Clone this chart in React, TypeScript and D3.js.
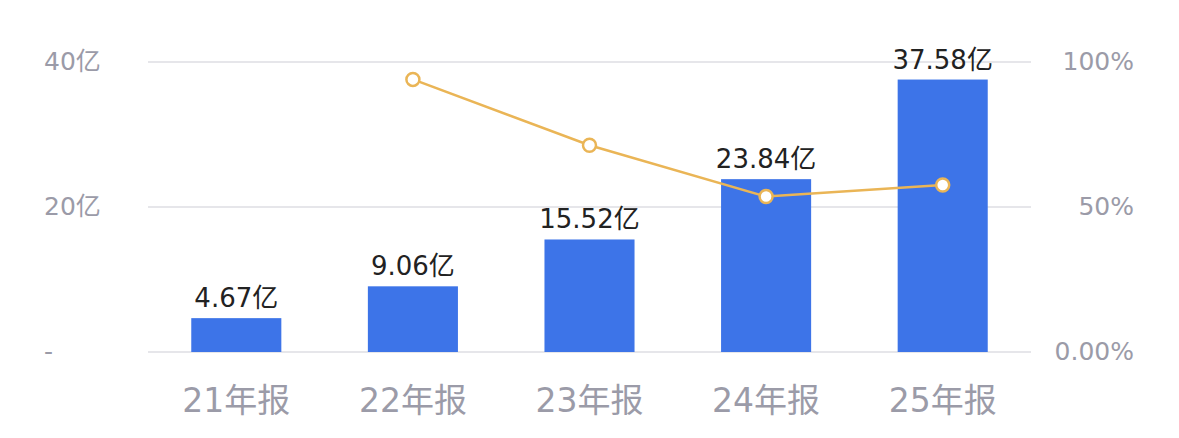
import * as React from 'react';
import * as d3 from 'd3';

const categories = ['21年报', '22年报', '23年报', '24年报', '25年报'];
const revenue = [4.67, 9.06, 15.52, 23.84, 37.58];
const growth = [null, 94.0, 71.3, 53.6, 57.6];
const leftTicks = [0, 20, 40];
const leftTickLabels = ['-', '20亿', '40亿'];
const rightTicks = [0, 50, 100];
const rightTickLabels = ['0.00%', '50%', '100%'];

const W = 1179;
const H = 438;
const font = '"DejaVu Sans", "Noto Sans CJK SC", sans-serif';

export default function App() {
    const x = d3.scaleBand<string>()
        .domain(categories)
        .range([148, 1031])
        .paddingInner(0.49)
        .paddingOuter(0.245);
    const yL = d3.scaleLinear().domain([0, 40]).range([352, 62]);
    const yR = d3.scaleLinear().domain([0, 100]).range([352, 62]);

    const pts = categories
        .map((c, i) => ({ c, v: growth[i] }))
        .filter(d => d.v !== null) as { c: string; v: number }[];

    const line = d3.line<{ c: string; v: number }>()
        .x(d => (x(d.c) as number) + x.bandwidth() / 2)
        .y(d => yR(d.v));

    return (
        <svg width={W} height={H} style={{ position: 'absolute', left: 0, top: 0, background: '#fff' }} fontFamily={font}>
            {leftTicks.map((t, i) => (
                <g key={'l' + t}>
                    <line x1={148} x2={1031} y1={yL(t)} y2={yL(t)} stroke="#e6e6ea" strokeWidth={2} />
                    <text x={44} y={yL(t) + 8} textAnchor="start" fontSize={25} fill="#9b9ba8">{leftTickLabels[i]}</text>
                </g>
            ))}
            {rightTicks.map((t, i) => (
                <text key={'r' + t} x={1134} y={yR(t) + 8} textAnchor="end" fontSize={25} fill="#9b9ba8">{rightTickLabels[i]}</text>
            ))}
            {categories.map((c, i) => (
                <g key={c}>
                    <rect x={x(c)} y={yL(revenue[i])} width={x.bandwidth()} height={yL(0) - yL(revenue[i])} fill="#3d74e8" />
                    <text x={(x(c) as number) + x.bandwidth() / 2} y={yL(revenue[i]) - 11} textAnchor="middle" fontSize={26} fill="#222">{revenue[i].toFixed(2)}亿</text>
                    <text x={(x(c) as number) + x.bandwidth() / 2} y={412} textAnchor="middle" fontSize={33} fill="#9b9ba8">{c}</text>
                </g>
            ))}
            <path d={line(pts) || ''} fill="none" stroke="#eab556" strokeWidth={2.5} />
            {pts.map(d => (
                <circle key={d.c} cx={(x(d.c) as number) + x.bandwidth() / 2} cy={yR(d.v)} r={6.5} fill="#fff" stroke="#eab556" strokeWidth={2.5} />
            ))}
        </svg>
    );
}
